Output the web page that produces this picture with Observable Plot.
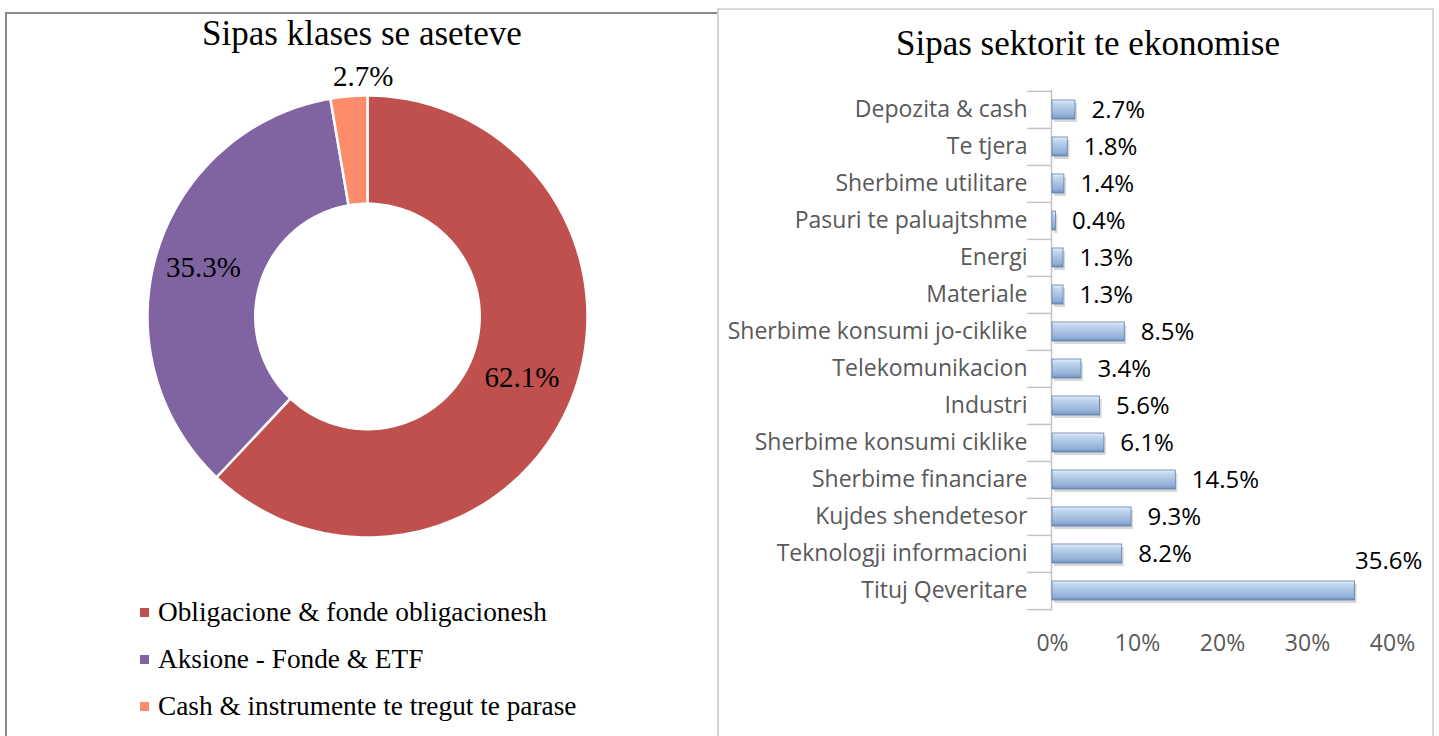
<!DOCTYPE html>
<html>
<head>
<meta charset="utf-8">
<script src="https://cdn.jsdelivr.net/npm/d3@7"></script>
<script src="https://cdn.jsdelivr.net/npm/@observablehq/plot@0.6"></script>
<style>
  html, body { margin: 0; padding: 0; background: #fff; }
  body { width: 1439px; height: 736px; position: relative; overflow: hidden; }
  .panel { position: absolute; box-sizing: border-box; }
  #leftPanel { left: 5px; top: 12px; width: 714px; height: 760px; border: 2px solid #8a8a8a; }
  #rightPanel { left: 717px; top: 8px; width: 717px; height: 760px; border: 2px solid #d9d9d9; border-left: 2px solid #d4d4d4; }
  .title { position: absolute; font-family: "Liberation Serif", serif; font-size: 35px; line-height: 35px; color: #000; white-space: nowrap; transform: translateX(-50%); }
  #leftChart, #rightChart { position: absolute; top: 0; }
  #leftChart { left: 8px; }
  #rightChart { left: 720px; }
  #legend { position: absolute; left: 140px; top: 589px; font-family: "Liberation Serif", serif; font-size: 27.3px; color: #000; }
  .lrow { height: 47px; display: flex; align-items: center; white-space: nowrap; }
  .lsw { width: 9px; height: 9px; margin-right: 9px; }
</style>
</head>
<body>
<div id="leftPanel" class="panel"></div>
<div id="rightPanel" class="panel"></div>
<div class="title" style="left:362px; top:16px;">Sipas klases se aseteve</div>
<div class="title" style="left:1088px; top:26px;">Sipas sektorit te ekonomise</div>
<div id="leftChart"></div>
<div id="rightChart"></div>
<div id="legend"></div>
<script>
// ---- Data: asset classes (donut) ----
const assetNames = ["Obligacione & fonde obligacionesh", "Aksione - Fonde & ETF", "Cash & instrumente te tregut te parase"];
const assetValues = [62.1, 35.3, 2.7];
const assetColors = ["#C0504D", "#8064A2", "#FE8B6A"];

// ---- Data: economic sectors (bars) ----
const sectorNames = ["Depozita & cash", "Te tjera", "Sherbime utilitare", "Pasuri te paluajtshme", "Energi", "Materiale",
  "Sherbime konsumi jo-ciklike", "Telekomunikacion", "Industri", "Sherbime konsumi ciklike", "Sherbime financiare",
  "Kujdes shendetesor", "Teknologji informacioni", "Tituj Qeveritare"];
const sectorValues = [2.7, 1.8, 1.4, 0.4, 1.3, 1.3, 8.5, 3.4, 5.6, 6.1, 14.5, 9.3, 8.2, 35.6];
const xTicks = [0, 0.1, 0.2, 0.3, 0.4];

// ---------- Donut ----------
const total = d3.sum(assetValues);
let acc = 0;
const slices = assetNames.map((name, i) => {
  const a0 = acc / total * 2 * Math.PI;
  acc += assetValues[i];
  const a1 = acc / total * 2 * Math.PI;
  return {name, value: assetValues[i], color: assetColors[i], a0, a1};
});
const R0 = 0.51, R1 = 1.0;
function slicePolygon(s) {
  const pts = [];
  const n = Math.max(4, Math.ceil((s.a1 - s.a0) / (Math.PI / 180)));
  for (let k = 0; k <= n; k++) { const a = s.a0 + (s.a1 - s.a0) * k / n; pts.push({x: R1 * Math.sin(a), y: R1 * Math.cos(a)}); }
  for (let k = n; k >= 0; k--) { const a = s.a0 + (s.a1 - s.a0) * k / n; pts.push({x: R0 * Math.sin(a), y: R0 * Math.cos(a)}); }
  pts.push(pts[0]);
  return pts;
}
const labelR = [0.755, 0.765, 1.09];
const labelDx = [0, -3, 16];
const donutMarks = slices.map(s => Plot.line(slicePolygon(s), {x: "x", y: "y", fill: s.color, stroke: "white", strokeWidth: 2.5, curve: "linear"}));
slices.forEach((s, i) => {
  const m = (s.a0 + s.a1) / 2;
  donutMarks.push(Plot.text([s], {x: d => labelR[i] * Math.sin(m), y: d => labelR[i] * Math.cos(m), text: d => d.value.toFixed(1) + "%", fontSize: 29, fill: "black", dx: labelDx[i]}));
});
const leftPlot = Plot.plot({
  width: 706, height: 736,
  marginLeft: 139, marginRight: 127, marginTop: 95, marginBottom: 199,
  x: {domain: [-1, 1], axis: null},
  y: {domain: [-1, 1], axis: null},
  style: {background: "transparent", fontFamily: "Liberation Serif, serif"},
  marks: donutMarks
});
document.getElementById("leftChart").appendChild(leftPlot);

// Legend
const legend = document.getElementById("legend");
assetNames.forEach((n, i) => {
  const row = document.createElement("div"); row.className = "lrow";
  const sw = document.createElement("span"); sw.className = "lsw"; sw.style.background = assetColors[i];
  const tx = document.createElement("span"); tx.textContent = n;
  row.appendChild(sw); row.appendChild(tx); legend.appendChild(row);
});

// ---------- Bars ----------
const sectors = sectorNames.map((name, i) => ({name, value: sectorValues[i] / 100}));
const maxVal = d3.max(sectors, d => d.value);
const H = 736, mTop = 89.4, mBottom = 125.4;
const step = (H - mTop - mBottom) / sectorNames.length;
const rightPlot = Plot.plot({
  width: 712, height: H,
  marginLeft: 332, marginRight: 40, marginTop: mTop, marginBottom: mBottom,
  x: {domain: [0, 0.4], ticks: xTicks, tickFormat: d3.format(".0%"), tickSize: 0, tickPadding: 24, label: null},
  y: {domain: sectorNames, paddingInner: 0.5, paddingOuter: 0.25, tickSize: 0, tickPadding: 25, label: null},
  style: {background: "transparent", fontFamily: "'Open Sans', sans-serif", fontSize: "23px", color: "#595959"},
  marks: [
    Plot.ruleX([0], {stroke: "#c4c4c4", strokeWidth: 1.5, dx: -1}),
    Plot.ruleY(sectorNames, {y: d => d, x1: -0.028, x2: 0, dx: -1, dy: -step / 2, stroke: "#c4c4c4", strokeWidth: 1.5}),
    Plot.ruleY(sectorNames.slice(-1), {y: d => d, x1: -0.028, x2: 0, dx: -1, dy: step / 2, stroke: "#c4c4c4", strokeWidth: 1.5}),
    Plot.barX(sectors, {x: "value", y: "name", fill: "#7f7f7f", fillOpacity: 0.3, dx: 2, dy: 3}),
    Plot.barX(sectors, {x: "value", y: "name", fill: "url(#barGrad)", stroke: "#5f7fae", strokeWidth: 0.8}),
    Plot.text(sectors.filter(d => d.value < maxVal), {x: "value", y: "name", text: d => (d.value * 100).toFixed(1) + "%", textAnchor: "start", dx: 16, fill: "black", fontSize: 24}),
    Plot.text(sectors.filter(d => d.value === maxVal), {x: "value", y: "name", text: d => (d.value * 100).toFixed(1) + "%", textAnchor: "start", dx: 0, dy: -30, fill: "black", fontSize: 24})
  ]
});
const defs = d3.select(rightPlot).insert("defs", ":first-child");
const g = defs.append("linearGradient").attr("id", "barGrad").attr("x1", 0).attr("y1", 0).attr("x2", 0).attr("y2", 1);
[["0%", "#e6eff9"], ["18%", "#c4d8ef"], ["50%", "#a9c3e3"], ["82%", "#92afd6"], ["100%", "#6d8dbd"]]
  .forEach(([o, c]) => g.append("stop").attr("offset", o).attr("stop-color", c));
document.getElementById("rightChart").appendChild(rightPlot);
</script>
</body>
</html>
